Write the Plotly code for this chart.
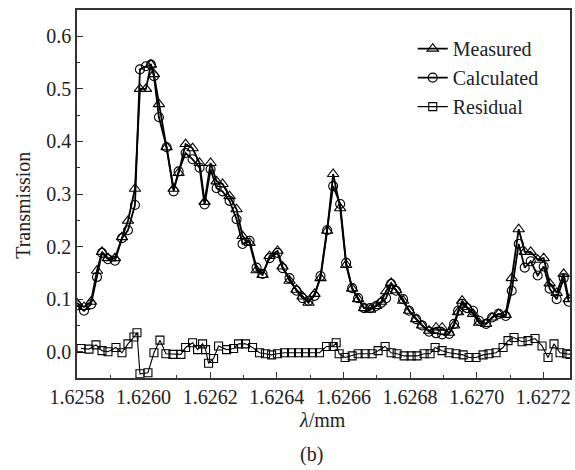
import plotly.graph_objects as go

# wavelength samples (mm) shared by Measured and Calculated
wl = [1.625800, 1.625821, 1.625842, 1.625860, 1.625875, 1.625893, 1.625914, 1.625935,
      1.625953, 1.625974, 1.625989, 1.626007, 1.626022, 1.626031, 1.626046, 1.626069,
      1.626090, 1.626105, 1.626126, 1.626147, 1.626168, 1.626183, 1.626201, 1.626219,
      1.626237, 1.626258, 1.626279, 1.626297, 1.626318, 1.626339, 1.626357, 1.626378,
      1.626402, 1.626417, 1.626438, 1.626459, 1.626477, 1.626495, 1.626513, 1.626531,
      1.626551, 1.626569, 1.626590, 1.626608, 1.626626, 1.626644, 1.626662, 1.626680,
      1.626698, 1.626713, 1.626728, 1.626743, 1.626758, 1.626779, 1.626797, 1.626818,
      1.626836, 1.626857, 1.626878, 1.626896, 1.626917, 1.626932, 1.626944, 1.626956,
      1.626971, 1.626989, 1.627007, 1.627028, 1.627046, 1.627066, 1.627087, 1.627105,
      1.627126, 1.627144, 1.627162, 1.627183, 1.627201, 1.627219, 1.627240, 1.627261,
      1.627276]

measured = [0.092, 0.085, 0.095, 0.154, 0.190, 0.178, 0.178, 0.218,
            0.249, 0.310, 0.500, 0.500, 0.546, 0.528, 0.471, 0.389,
            0.310, 0.340, 0.395, 0.387, 0.359, 0.285, 0.359, 0.324,
            0.319, 0.296, 0.271, 0.220, 0.207, 0.155, 0.146, 0.182,
            0.192, 0.162, 0.135, 0.118, 0.105, 0.093, 0.110, 0.140,
            0.230, 0.338, 0.273, 0.165, 0.120, 0.100, 0.083, 0.080,
            0.087, 0.095, 0.115, 0.131, 0.117, 0.097, 0.078, 0.062,
            0.050, 0.040, 0.046, 0.046, 0.036, 0.050, 0.075, 0.097,
            0.085, 0.072, 0.055, 0.053, 0.065, 0.072, 0.070, 0.140,
            0.233, 0.190, 0.190, 0.175, 0.178, 0.130, 0.112, 0.148,
            0.100]

calculated = [0.088, 0.078, 0.090, 0.142, 0.188, 0.176, 0.173, 0.216,
              0.231, 0.279, 0.537, 0.543, 0.546, 0.524, 0.446, 0.389,
              0.305, 0.343, 0.378, 0.366, 0.350, 0.280, 0.347, 0.311,
              0.305, 0.287, 0.252, 0.205, 0.211, 0.160, 0.148, 0.178,
              0.188, 0.159, 0.140, 0.116, 0.102, 0.097, 0.106, 0.144,
              0.231, 0.315, 0.281, 0.169, 0.121, 0.102, 0.083, 0.083,
              0.087, 0.093, 0.102, 0.129, 0.116, 0.100, 0.078, 0.062,
              0.050, 0.038, 0.035, 0.033, 0.034, 0.053, 0.078, 0.091,
              0.083, 0.078, 0.059, 0.053, 0.065, 0.072, 0.068, 0.116,
              0.205, 0.160, 0.172, 0.145, 0.162, 0.120, 0.100, 0.140,
              0.095]

# residual samples
wl_res = [1.625812, 1.625836, 1.625857, 1.625875, 1.625893, 1.625917, 1.625935, 1.625953,
          1.625971, 1.625980, 1.625989, 1.626013, 1.626031, 1.626049, 1.626067, 1.626088,
          1.626112, 1.626126, 1.626147, 1.626162, 1.626177, 1.626186, 1.626195, 1.626210,
          1.626225, 1.626249, 1.626270, 1.626285, 1.626306, 1.626327, 1.626348, 1.626366,
          1.626384, 1.626402, 1.626423, 1.626444, 1.626465, 1.626486, 1.626507, 1.626528,
          1.626549, 1.626569, 1.626578, 1.626587, 1.626605, 1.626626, 1.626644, 1.626665,
          1.626686, 1.626704, 1.626725, 1.626743, 1.626761, 1.626782, 1.626803, 1.626821,
          1.626842, 1.626860, 1.626875, 1.626896, 1.626917, 1.626938, 1.626959, 1.626977,
          1.626998, 1.627019, 1.627037, 1.627058, 1.627079, 1.627094, 1.627112, 1.627136,
          1.627154, 1.627175, 1.627196, 1.627214, 1.627232, 1.627250, 1.627270, 1.627280]

residual = [0.006, 0.005, 0.013, 0.002, 0.000, 0.008, -0.002, 0.015,
            0.028, 0.036, -0.042, -0.040, -0.002, 0.022, -0.004, -0.005,
            -0.005, 0.008, 0.017, 0.004, 0.015, 0.004, -0.022, -0.013,
            0.011, 0.004, 0.006, 0.015, 0.015, 0.008, -0.002, -0.004,
            -0.006, -0.004, -0.002, -0.002, -0.002, -0.002, -0.002, -0.002,
            0.010, 0.010, 0.017, -0.004, -0.011, -0.008, -0.004, -0.004,
            -0.004, 0.002, 0.010, -0.002, -0.004, -0.008, -0.008, -0.008,
            -0.004, -0.004, 0.008, 0.002, -0.002, -0.004, -0.006, -0.011,
            -0.011, -0.006, -0.004, -0.002, 0.008, 0.021, 0.027, 0.019,
            0.021, 0.025, 0.011, -0.011, 0.015, -0.002, -0.004, -0.005]

FONT = "Liberation Serif, Times New Roman, serif"
TXT = "#222"
FS = 20

fig = go.Figure()
fig.add_trace(go.Scatter(
    x=wl, y=measured, name="Measured", mode="lines+markers",
    line=dict(color="black", width=1.8),
    marker=dict(symbol="triangle-up-open", size=10, color="black", line=dict(width=1.1)),
))
fig.add_trace(go.Scatter(
    x=wl, y=calculated, name="Calculated", mode="lines+markers",
    line=dict(color="black", width=1.8),
    marker=dict(symbol="circle-open", size=9, color="black", line=dict(width=1.1)),
))
fig.add_trace(go.Scatter(
    x=wl_res, y=residual, name="Residual", mode="lines+markers",
    line=dict(color="black", width=1.1),
    marker=dict(symbol="square-open", size=8, color="black", line=dict(width=1.1)),
))

axis_common = dict(
    showline=True, linecolor="#333", linewidth=1.5, mirror=True,
    ticks="inside", ticklen=6, tickwidth=1.2, tickcolor="#333",
    showgrid=False, zeroline=False, automargin=False,
    tickfont=dict(family=FONT, size=FS, color=TXT),
)

fig.update_xaxes(
    range=[1.6258, 1.62728], tick0=1.6258, dtick=0.0002, tickformat=".4f",
    minor=dict(ticks="inside", ticklen=3, dtick=0.0001, tick0=1.6258, tickcolor="#333"),
    **axis_common,
)
fig.update_yaxes(
    range=[-0.05, 0.65], tick0=0, dtick=0.1, tickformat=".1f",
    minor=dict(ticks="inside", ticklen=3, dtick=0.05, tick0=0, tickcolor="#333"),
    **axis_common,
)

# axis titles and panel label
fig.add_annotation(text="<i>λ</i>/mm", xref="paper", yref="paper", x=0.498, y=-0.115,
                   xanchor="center", yanchor="middle", showarrow=False,
                   font=dict(family=FONT, size=FS, color=TXT))
fig.add_annotation(text="Transmission", xref="paper", yref="paper", x=-0.11, y=0.47,
                   xanchor="center", yanchor="middle", textangle=-90, showarrow=False,
                   font=dict(family=FONT, size=FS, color=TXT))
fig.add_annotation(text="(b)", xref="paper", yref="paper", x=0.475, y=-0.209,
                   xanchor="center", yanchor="middle", showarrow=False,
                   font=dict(family=FONT, size=FS, color=TXT))

fig.update_layout(
    width=575, height=470,
    margin=dict(l=77, r=5, t=10, b=92),
    paper_bgcolor="white", plot_bgcolor="white",
    font=dict(family=FONT, size=FS, color=TXT),
    showlegend=True,
    legend=dict(x=0.681, y=0.948, xanchor="left", yanchor="top",
                bgcolor="rgba(0,0,0,0)", font=dict(family=FONT, size=FS, color=TXT),
                itemwidth=30, tracegroupgap=0),
)

fig.write_html("out.html", config={"displayModeBar": False},
               post_script="document.body.style.margin='0';")
